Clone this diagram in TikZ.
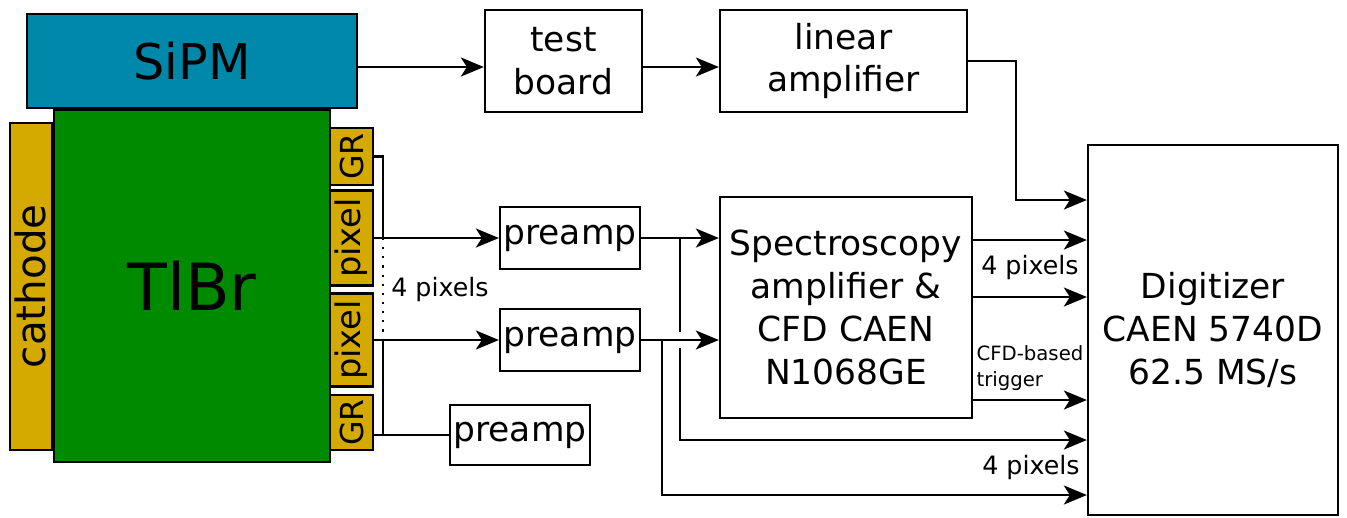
\documentclass[tikz,border=0pt]{standalone}
\usepackage{fontspec}
\setmainfont{DejaVu Sans}
\usepackage{graphicx}
\usepackage{tikz}
\usetikzlibrary{positioning, arrows.meta, calc}

\definecolor{sipmblue}{RGB}{0,136,170}
\definecolor{tlbrgreen}{RGB}{0,138,0}
\definecolor{padyellow}{RGB}{212,170,0}
\newcommand{\fsz}[2]{\fontsize{#1}{#2}\selectfont}

\begin{document}
\begin{tikzpicture}[
	x=0.01cm, y=-0.01cm, % pixel grid of the sketch
	line width=0.6pt,
	>={Stealth[length=2.3mm, width=1.9mm, inset=0.6mm]},
	% Style for Nodes
	det/.style={
		rectangle,
		draw=black,
		inner sep=0pt,
		align=center
	},
	pad/.style={det, fill=padyellow, minimum width=0.43cm, font=\fsz{9}{11}},
	block/.style={det, fill=white, font=\fsz{9.8}{12.2}},
	note/.style={font=\fsz{7.2}{9}, inner sep=1pt}
	]

	\useasboundingbox (0,0) rectangle (1347,517);

	% --- DETECTOR ---

	\node[det, fill=sipmblue, minimum width=3.3cm, minimum height=0.94cm, font=\fsz{14}{17}] (sipm) at (192,61) {SiPM};
	\node[det, fill=tlbrgreen, minimum width=2.76cm, minimum height=3.52cm, font=\fsz{18.5}{22}, below=0pt of sipm] (tlbr) {TlBr};
	\node[det, fill=padyellow, minimum width=0.42cm, minimum height=3.27cm, font=\fsz{11.5}{14}, left=0pt of tlbr] (cath) {\rotatebox{90}{cathode}};

	% Readout pads
	\node[pad, minimum height=0.57cm] (gr1) at (351.5,156.5) {\rotatebox{90}{GR}};
	\node[pad, minimum height=0.95cm, font=\fsz{9.6}{11}] (px1) at (351.5,238) {\rotatebox{90}{pixel}};
	\node[pad, minimum height=0.93cm, font=\fsz{9.6}{11}] (px2) at (351.5,340) {\rotatebox{90}{pixel}};
	\node[pad, minimum height=0.55cm] (gr2) at (351.5,422.5) {\rotatebox{90}{GR}};

	% --- ELECTRONICS ---

	\node[block, minimum width=1.57cm, minimum height=1.02cm] (test) at (563.5,61) {test\\board};
	\node[block, minimum width=2.47cm, minimum height=1.02cm] (lin) at (843.5,61) {linear\\amplifier};
	\node[block, minimum width=1.4cm, minimum height=0.62cm] (pre1) at (570,238) {preamp};
	\node[block, minimum width=1.4cm, minimum height=0.62cm] (pre2) at (570,340) {preamp};
	\node[block, minimum width=1.4cm, minimum height=0.6cm] (pre3) at (520,435) {preamp};
	\node[block, minimum width=2.52cm, minimum height=2.21cm] (spec) at (846,307.5) {Spectroscopy\\amplifier \&\\CFD CAEN\\N1068GE};
	\node[block, minimum width=2.5cm, minimum height=3.7cm] (dig) at (1213,330) {Digitizer\\CAEN 5740D\\62.5 MS/s};

	% Digitizer inputs
	\foreach \n/\y in {1/200, 2/240, 3/297, 4/400, 5/440, 6/495}
		\coordinate (in\n) at (dig.west |- 0,\y);

	% --- CONNECTIONS ---

	% Light path
	\draw[->] ($(sipm.east)+(0,6)$) -- ($(test.west)+(0,6)$);
	\draw[->] ($(test.east)+(0,6)$) -- ($(lin.west)+(0,6)$);
	\draw[->] (lin.east) -- ++(48,0) |- (in1);

	% Guard rings and pixels
	\coordinate (j1) at (383,238);
	\coordinate (j2) at (383,340);
	\draw (gr1.east) -| (j1);
	\draw[dotted] (j1) -- (j2);
	\draw (j2) |- (pre3.west);
	\draw (gr2.east |- pre3.west) -- (pre3.west);
	\draw[->] (px1) -- (pre1);
	\draw[->] (px2) -- (pre2);
	\node[note] (lblL) at (440,290) {4 pixels};

	% Preamps to shaping and digitizer
	\coordinate (b1) at (680,238);
	\coordinate (b2) at (662,340);
	\draw[->] (b1) |- (in5);
	\draw[white, line width=3pt] ($(b1)+(0,94)$) -- ($(b1)+(0,110)$);
	\draw[->] (pre1) -- (pre1 -| spec.west);
	\draw[->] (pre2) -- (pre2 -| spec.west);
	\draw[->] (b2) |- (in6);

	% Shaped signals and trigger
	\draw[->] (spec.east |- in2) -- (in2);
	\draw[->] (spec.east |- in3) -- (in3);
	\draw[->] (spec.east |- in4) -- (in4);
	\node[note] (lblR) at (1030,268) {4 pixels};
	\node[note] (lblB) at (1031,468) {4 pixels};
	\node[note, anchor=west, align=left, font=\fsz{5.6}{7.2}] (trig) at (972,368) {CFD-based\\trigger};

\end{tikzpicture}
\end{document}
